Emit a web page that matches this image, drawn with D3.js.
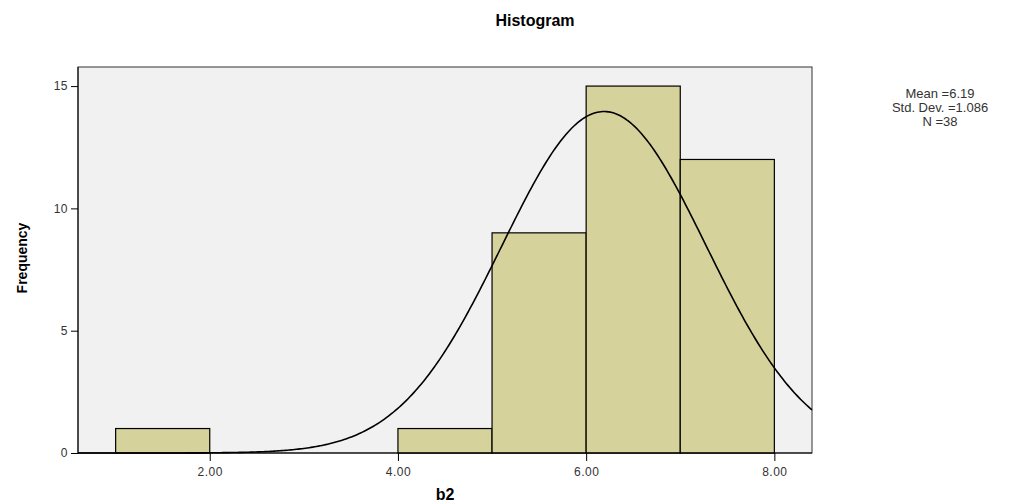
<!DOCTYPE html>
<html>
<head>
<meta charset="utf-8">
<script src="https://cdn.jsdelivr.net/npm/d3@7"></script>
<style>
	body { margin: 0; background: #fff; }
	svg { display: block; font-family: "Liberation Sans", Arial, sans-serif; }
	.axis path, .axis line { stroke: #000; }
	.axis text { fill: #333; font-size: 12px; letter-spacing: 0.5px; }
</style>
</head>
<body>
<svg id="hist" width="1021" height="502"></svg>
<script>
// histogram bins of b2 (lower edge, upper edge) and their counts
var binStart = [1, 4, 5, 6, 7];
var binEnd = [2, 5, 6, 7, 8];
var counts = [1, 1, 9, 15, 12];
var xTicks = [2, 4, 6, 8];
var yTicks = [0, 5, 10, 15];
// summary shown in the legend, also used for the fitted normal curve
var mean = 6.19, stdDev = 1.086, n = 38;

var chart = d3.select("#hist");
// plot box edges (window.top is reserved, so prefix these)
var plotLeft = 78, plotTop = 67, plotRight = 812, plotBottom = 453;

var x = d3.scaleLinear().domain([0.6, 8.4]).range([plotLeft, plotRight]);
var y = d3.scaleLinear().domain([0, 15.78]).range([plotBottom, plotTop]);

// plot background first so everything else sits on it
chart.append("rect").attr("x", plotLeft).attr("y", plotTop).attr("width", plotRight - plotLeft).attr("height", plotBottom - plotTop)
	.attr("fill", "#f1f1f1").attr("stroke", "#333").attr("stroke-width", 1);

var bins = counts.map(function(c, i) { return {x0: binStart[i], x1: binEnd[i], count: c}; });
chart.selectAll("rect.bar").data(bins).enter().append("rect").attr("class", "bar")
	.attr("x", function(b) { return x(b.x0); })
	.attr("y", function(b) { return y(b.count); })
	.attr("width", function(b) { return x(b.x1) - x(b.x0); })
	.attr("height", function(b) { return y(0) - y(b.count); })
	.attr("fill", "#d6d29b").attr("stroke", "#000").attr("stroke-width", 1.2);

// normal curve scaled to counts (bin width 1)
var curve = d3.range(0, 401).map(function(i) {
	var v = 0.6 + i * (8.4 - 0.6) / 400;
	var z = (v - mean) / stdDev;
	return [v, n / (stdDev * Math.sqrt(2 * Math.PI)) * Math.exp(-z * z / 2)];
});
chart.append("path").datum(curve)
	.attr("d", d3.line().x(function(d) { return x(d[0]); }).y(function(d) { return y(d[1]); }))
	.attr("fill", "none").attr("stroke", "#000").attr("stroke-width", 1.6);

var xaxis = chart.append("g").attr("class", "x axis").attr("transform", "translate(0," + plotBottom + ")")
	.call(d3.axisBottom(x).tickValues(xTicks).tickFormat(d3.format(".2f")).tickSize(8).tickSizeOuter(0));
xaxis.select(".domain").attr("d", "M" + plotLeft + ",0H" + plotRight);
xaxis.selectAll("text").attr("dy", "1.0em");

var yaxis = chart.append("g").attr("class", "y axis").attr("transform", "translate(" + plotLeft + ",0)")
	.call(d3.axisLeft(y).tickValues(yTicks).tickSize(7).tickSizeOuter(0));
yaxis.select(".domain").attr("d", "M0," + plotTop + "V" + plotBottom);

chart.append("text").attr("x", 535).attr("y", 26).attr("text-anchor", "middle")
	.attr("font-size", 16).attr("font-weight", "bold").text("Histogram");
chart.append("text").attr("x", 445).attr("y", 500).attr("text-anchor", "middle")
	.attr("font-size", 16).attr("font-weight", "bold").text("b2");
chart.append("text").attr("transform", "translate(27,258) rotate(-90)").attr("text-anchor", "middle")
	.attr("font-size", 14).attr("font-weight", "bold").text("Frequency");

var stats = ["Mean =" + mean, "Std. Dev. =" + stdDev, "N =" + n];
chart.selectAll("text.stat").data(stats).enter().append("text").attr("class", "stat")
	.attr("x", 940).attr("y", function(d, i) { return 98 + i * 14; }).attr("text-anchor", "middle")
	.attr("font-size", 13).attr("fill", "#333").text(function(d) { return d; });
</script>
</body>
</html>
